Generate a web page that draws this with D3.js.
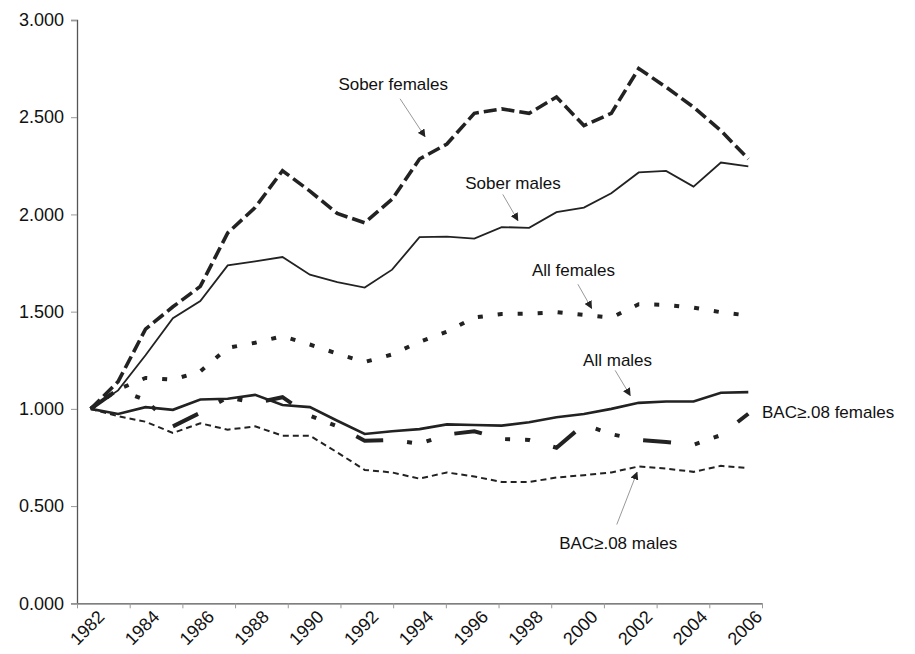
<!DOCTYPE html>
<html>
<head>
<meta charset="utf-8">
<script src="https://cdn.jsdelivr.net/npm/d3@7"></script>
<style>
  body { margin: 0; background: #fff; }
  svg { display: block; font-family: "Liberation Sans", Arial, sans-serif; }
</style>
</head>
<body>
<svg id="chart" width="915" height="654"></svg>
<script>
// data (index relative to 1982)
var years = d3.range(1982, 2007);
var yearLabels = ['1982','1984','1986','1988','1990','1992','1994','1996','1998','2000','2002','2004','2006'];
var yTicks = [0, 0.5, 1, 1.5, 2, 2.5, 3];

var soberFemales = [1.000, 1.140, 1.410, 1.525, 1.630, 1.905, 2.035, 2.225, 2.120, 2.005, 1.957, 2.078, 2.285, 2.362,
  2.520, 2.543, 2.520, 2.604, 2.457, 2.520, 2.750, 2.655, 2.552, 2.431, 2.285];
var soberMales = [1.000, 1.095, 1.276, 1.466, 1.555, 1.738, 1.759, 1.781, 1.690, 1.652, 1.624, 1.716, 1.883, 1.886,
  1.876, 1.935, 1.931, 2.012, 2.035, 2.109, 2.216, 2.224, 2.143, 2.267, 2.247];
var allFemales = [1.000, 1.100, 1.159, 1.150, 1.193, 1.314, 1.340, 1.374, 1.331, 1.284, 1.241, 1.280, 1.345, 1.397,
  1.470, 1.488, 1.490, 1.497, 1.483, 1.469, 1.538, 1.535, 1.521, 1.497, 1.480];
var allMales = [1.000, 0.974, 1.009, 0.995, 1.048, 1.052, 1.072, 1.020, 1.009, 0.939, 0.871, 0.885, 0.896, 0.920,
  0.917, 0.914, 0.931, 0.957, 0.974, 1.000, 1.031, 1.038, 1.038, 1.083, 1.086];
var bacFemales = [1.000, 1.100, 1.045, 0.910, 0.980, 1.060, 1.030, 1.060, 0.965, 0.910, 0.836, 0.840, 0.820, 0.868,
  0.885, 0.845, 0.840, 0.800, 0.920, 0.870, 0.840, 0.830, 0.815, 0.865, 0.975];
var bacMales = [1.000, 0.962, 0.934, 0.876, 0.926, 0.893, 0.910, 0.862, 0.862, 0.776, 0.686, 0.673, 0.641, 0.673,
  0.652, 0.624, 0.624, 0.647, 0.659, 0.673, 0.704, 0.693, 0.676, 0.707, 0.695];

var series = [
  {name: 'bacMales', values: bacMales, width: 2, dash: '6,4'},
  {name: 'bacFemales', values: bacFemales, width: 4, dash: '28,24,5,15,5,24'},
  {name: 'allFemales', values: allFemales, width: 4, dash: '5,15'},
  {name: 'allMales', values: allMales, width: 2.6, dash: null},
  {name: 'soberMales', values: soberMales, width: 1.8, dash: null},
  {name: 'soberFemales', values: soberFemales, width: 3.6, dash: '13,5'}
];

// annotations in data units: text at [year, value], arrow from -> to
var notes = [
  {text: 'Sober females', at: [1993.04, 2.673], from: [1993.29, 2.595], to: [1994.2, 2.40]},
  {text: 'Sober males', at: [1997.41, 2.160], from: [1997.04, 2.103], to: [1997.59, 1.969]},
  {text: 'All females', at: [1999.62, 1.715], from: [1999.78, 1.641], to: [2000.28, 1.517]},
  {text: 'All males', at: [2001.23, 1.250], from: [2001.14, 1.198], to: [2001.69, 1.069]},
  {text: 'BAC\u2265.08 males', at: [2001.25, 0.310], from: [2001.2, 0.405], to: [2001.94, 0.674]}
];

var svg = d3.select('#chart');

var x = d3.scaleLinear().domain([1981.5, 2006.5]).range([77, 762]);
var y = d3.scaleLinear().domain([0, 3]).range([603.3, 20]);

// y axis
var yAxis = svg.append('g')
  .attr('transform', 'translate(77,0)')
  .call(d3.axisLeft(y).tickValues(yTicks).tickFormat(d3.format('.3f')).tickSize(6).tickPadding(7));
yAxis.select('.domain').attr('stroke', '#555').attr('stroke-width', 1.3);
yAxis.selectAll('.tick line').attr('stroke', '#999');
yAxis.selectAll('.tick text').attr('font-size', 18).attr('fill', '#111')
  .attr('font-family', '"Liberation Sans", Arial, sans-serif');

// x axis, 13 equal tick intervals
var xTickVals = d3.range(14).map(function(k) { return 1981.5 + k * 25 / 13; });
var xAxis = svg.append('g')
  .attr('transform', 'translate(0,603.3)')
  .call(d3.axisBottom(x).tickValues(xTickVals).tickFormat('').tickSize(5).tickSizeOuter(0));
xAxis.select('.domain').attr('stroke', '#555').attr('stroke-width', 1.3);
xAxis.selectAll('.tick line').attr('stroke', '#999');

svg.append('g')
  .selectAll('text')
  .data(yearLabels)
  .join('text')
  .attr('transform', function(d) { return 'translate(' + (x(+d) + 15) + ',618) rotate(-45)'; })
  .attr('text-anchor', 'end')
  .attr('font-size', 18)
  .attr('fill', '#111')
  .text(function(d) { return d; });

// lines
var line = d3.line()
  .x(function(d, i) { return x(years[i]); })
  .y(function(d) { return y(d); });

svg.append('g')
  .selectAll('path')
  .data(series)
  .join('path')
  .attr('fill', 'none')
  .attr('stroke', '#222')
  .attr('stroke-width', function(d) { return d.width; })
  .attr('stroke-dasharray', function(d) { return d.dash; })
  .attr('d', function(d) { return line(d.values); });

// annotations
svg.append('defs').append('marker')
  .attr('id', 'head')
  .attr('viewBox', '0 0 10 10')
  .attr('refX', 9).attr('refY', 5)
  .attr('markerWidth', 8).attr('markerHeight', 8)
  .attr('markerUnits', 'userSpaceOnUse')
  .attr('orient', 'auto')
  .append('path')
  .attr('d', 'M0,0L10,5L0,10Z')
  .attr('fill', '#222');

var ann = svg.append('g');
ann.selectAll('line')
  .data(notes)
  .join('line')
  .attr('x1', function(d) { return x(d.from[0]); })
  .attr('y1', function(d) { return y(d.from[1]); })
  .attr('x2', function(d) { return x(d.to[0]); })
  .attr('y2', function(d) { return y(d.to[1]); })
  .attr('stroke', '#999')
  .attr('stroke-width', 1)
  .attr('marker-end', 'url(#head)');

ann.selectAll('text')
  .data(notes)
  .join('text')
  .attr('x', function(d) { return x(d.at[0]); })
  .attr('y', function(d) { return y(d.at[1]); })
  .attr('dy', '0.35em')
  .attr('text-anchor', 'middle')
  .attr('font-size', 17)
  .attr('fill', '#111')
  .text(function(d) { return d.text; });

svg.append('text')
  .attr('x', x(2006.5))
  .attr('y', y(0.984))
  .attr('dy', '0.35em')
  .attr('font-size', 17)
  .attr('fill', '#111')
  .text('BAC\u2265.08 females');
</script>
</body>
</html>
